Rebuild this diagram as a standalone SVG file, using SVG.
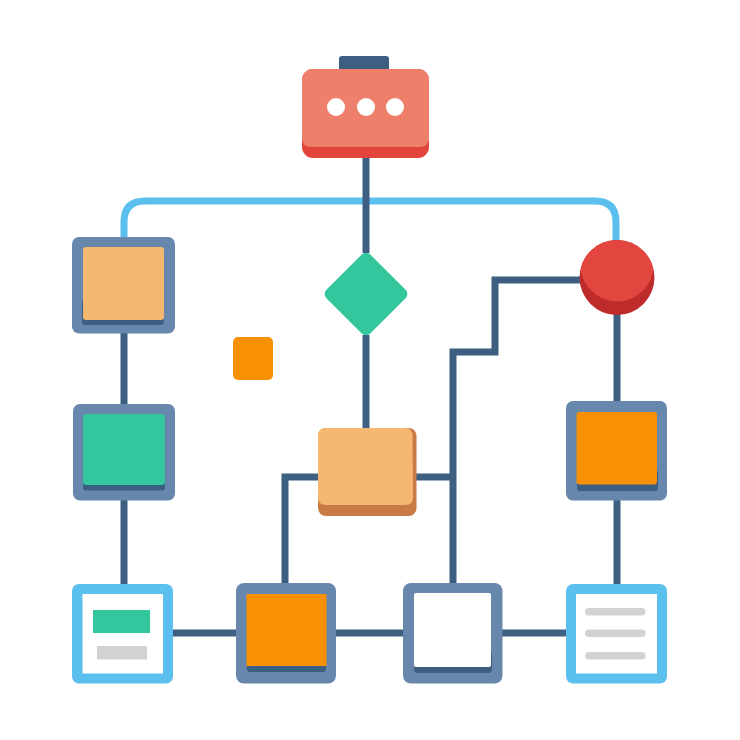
<svg xmlns="http://www.w3.org/2000/svg" width="740" height="740" viewBox="0 0 740 740">
<style>
.dark{fill:none;stroke:#3d5f82;stroke-width:7}
.blue{fill:none;stroke:#5cc0ef;stroke-width:7}
.frame{fill:#6787ad}
.docframe{fill:#5cc0ef}
.shadow{fill:#3d5f82}
.white{fill:#fff}
.orange{fill:#f79005}
.sand{fill:#f5b871}
.green{fill:#34c79d}
.gray{fill:#d2d2d2}
</style>
<defs><clipPath id="disc"><circle cx="617" cy="277.500" r="37.500"/></clipPath></defs>
<rect width="740" height="740" fill="#fff"/>
<g id="connectors">
<path class="blue" d="M124 238V222Q124 201 145 201H595Q616 201 616 222V241"/>
<path class="dark" d="M366 157V253M366 335V429M124 332V405M124 499V585M617 314V402M617 499V585M172 633H237M335 633H404M501 633H567M285 584V477H319M415 477H453M453 584V352H495V280H581"/>
</g>
<g id="start">
<rect class="shadow" x="339" y="56" width="50" height="16" rx="3"/>
<rect x="302" y="69" width="127" height="89" rx="11" fill="#e3443c"/>
<path d="M302 80a11 11 0 0 1 11-11h105a11 11 0 0 1 11 11v58q0 9-10 9H312q-10 0-10-9z" fill="#ee806b"/>
<circle class="white" cx="336" cy="107" r="9"/><circle class="white" cx="366" cy="107" r="9"/><circle class="white" cx="395" cy="107" r="9"/>
</g>
<g id="decision"><rect class="green" x="335" y="263" width="62" height="62" rx="6" transform="rotate(45 366 294)"/></g>
<g id="event">
<circle cx="617" cy="277.500" r="37.500" fill="#be2b2b"/>
<circle cx="617" cy="265" r="36.500" fill="#e3463e" clip-path="url(#disc)"/>
</g>
<g id="marker"><rect class="orange" x="233" y="337" width="40" height="43" rx="5"/></g>
<g id="node-sand">
<rect class="frame" x="72" y="237" width="103" height="96.500" rx="7"/>
<rect class="shadow" x="82" y="300" width="82" height="25" rx="3"/>
<rect class="sand" x="83" y="247" width="81" height="73" rx="3"/>
</g>
<g id="node-green">
<rect class="frame" x="73" y="404" width="102" height="96.500" rx="7"/>
<rect class="shadow" x="83" y="470" width="82" height="20.500" rx="3"/>
<rect class="green" x="83" y="414" width="82" height="71" rx="3"/>
</g>
<g id="node-right">
<rect class="frame" x="566" y="401" width="101" height="99.500" rx="7"/>
<rect class="shadow" x="577" y="470" width="81" height="21" rx="3"/>
<rect class="orange" x="576.500" y="412" width="80.500" height="72.500" rx="3"/>
</g>
<g id="node-center">
<rect x="318" y="428" width="98.500" height="88" rx="8" fill="#c97a45"/>
<path d="M326 428H405Q412 428 412.500 436L413 498Q413 505 405 505H326Q318 505 318 497V436Q318 428 326 428Z" class="sand"/>
</g>
<g id="doc-left">
<rect class="docframe" x="72" y="584" width="101" height="99.500" rx="7"/>
<rect class="white" x="82.500" y="594" width="80.500" height="79.500"/>
<rect class="green" x="93" y="610" width="57" height="23"/>
<rect class="gray" x="97" y="646" width="50" height="13.500"/>
</g>
<g id="node-orange">
<rect class="frame" x="236" y="583" width="100" height="100.500" rx="8"/>
<rect class="shadow" x="247" y="650" width="79" height="22" rx="3"/>
<rect class="orange" x="246.500" y="594" width="80" height="72"/>
</g>
<g id="node-white">
<rect class="frame" x="403" y="583" width="99.500" height="100.500" rx="8"/>
<rect class="shadow" x="414" y="650" width="78" height="23" rx="4"/>
<rect class="white" x="414" y="593" width="77" height="74" rx="2"/>
</g>
<g id="doc-right">
<rect class="docframe" x="566" y="584" width="101" height="99.500" rx="7"/>
<rect class="white" x="576" y="594" width="81" height="79.500"/>
<rect class="gray" x="585" y="608" width="60.500" height="7.500" rx="3.750"/>
<rect class="gray" x="585" y="629.500" width="60.500" height="7.500" rx="3.750"/>
<rect class="gray" x="585" y="652" width="60.500" height="7.500" rx="3.750"/>
</g>
</svg>
